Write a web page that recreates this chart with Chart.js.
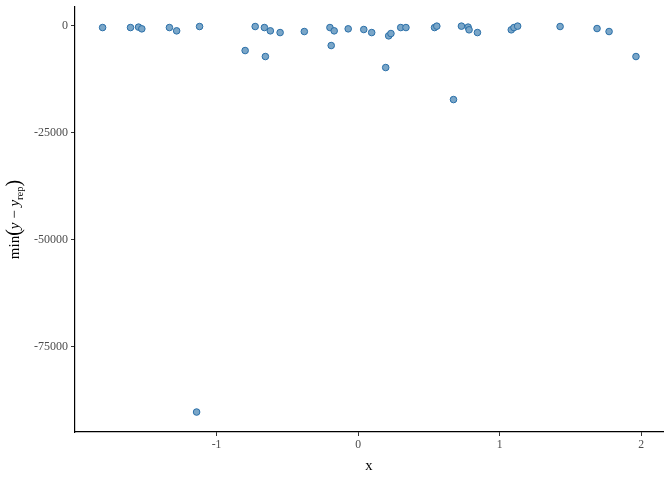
<!DOCTYPE html>
<html>
<head>
<meta charset="utf-8">
<script src="https://cdn.jsdelivr.net/npm/chart.js@4"></script>
<style>
html,body{margin:0;padding:0;background:#fff;}
#wrap{width:672px;height:480px;}
</style>
</head>
<body>
<div id="wrap"><canvas id="c" width="672" height="480"></canvas></div>
<script>
const xValues = [-1.805,-1.608,-1.551,-1.528,-1.333,-1.282,-1.120,-1.141,-0.798,-0.727,
  -0.662,-0.655,-0.620,-0.551,-0.380,-0.199,-0.190,-0.169,-0.070,0.040,
  0.096,0.195,0.216,0.232,0.301,0.338,0.540,0.556,0.674,0.730,
  0.777,0.784,0.843,1.082,1.101,1.127,1.427,1.688,1.773,1.963];
const yValues = [-400,-400,-300,-700,-400,-1170,-160,-90200,-5770,-160,
  -400,-7170,-1170,-1570,-1330,-400,-4600,-1170,-700,-860,
  -1570,-9740,-2340,-1800,-400,-400,-400,-70,-17220,-70,
  -300,-930,-1570,-930,-400,-70,-160,-630,-1330,-7170];
const xTicks = [-1, 0, 1, 2];
const yTicks = [-75000, -50000, -25000, 0];

const points = xValues.map((x, i) => ({x: x, y: yValues[i]}));
const SERIF = "'Liberation Serif', 'Times New Roman', serif";

const titlePlugin = {
  id: 'titles',
  afterDraw(chart) {
    const ctx = chart.ctx;
    const ca = chart.chartArea;
    ctx.save();
    ctx.fillStyle = '#000';
    // x title
    ctx.font = '14.7px ' + SERIF;
    ctx.textAlign = 'center';
    ctx.textBaseline = 'alphabetic';
    ctx.fillText('x', (ca.left + ca.right) / 2, 470);
    // y title rotated
    const cy = (ca.top + ca.bottom) / 2;
    ctx.translate(19, cy);
    ctx.rotate(-Math.PI / 2);
    const big = '15px ' + SERIF;
    const ital = 'italic 15px ' + SERIF;
    const paren = '20px ' + SERIF;
    const sub = '10.5px ' + SERIF;
    const parts = [
      {t: 'min', f: big, dy: 0},
      {t: '(', f: paren, dy: 1},
      {t: 'y', f: ital, dy: 0},
      {t: ' \u2212 ', f: big, dy: 0},
      {t: 'y', f: ital, dy: 0},
      {t: 'rep', f: sub, dy: 4},
      {t: ')', f: paren, dy: 1}
    ];
    let total = 0;
    parts.forEach(p => { ctx.font = p.f; p.w = ctx.measureText(p.t).width; total += p.w; });
    let x = -total / 2;
    ctx.textAlign = 'left';
    parts.forEach(p => {
      ctx.font = p.f;
      ctx.fillText(p.t, x, p.dy);
      x += p.w;
    });
    ctx.restore();
  }
};

new Chart(document.getElementById('c'), {
  type: 'scatter',
  data: {
    datasets: [{
      data: points,
      pointRadius: 3.3,
      pointHoverRadius: 3.3,
      pointBackgroundColor: 'rgb(122,166,200)',
      pointBorderColor: '#2a6fa8',
      pointBorderWidth: 1
    }]
  },
  options: {
    responsive: false,
    animation: false,
    devicePixelRatio: 1,
    layout: {padding: {top: 7, right: 9, left: 0, bottom: 0}},
    plugins: {legend: {display: false}, tooltip: {enabled: false}},
    scales: {
      x: {
        type: 'linear',
        min: -2.0,
        max: 2.154,
        afterBuildTicks: s => { s.ticks = xTicks.map(v => ({value: v})); },
        afterFit: s => { s.height = 48; s.paddingLeft = 0; s.paddingRight = 0; },
        border: {display: true, color: '#000', width: 1.2},
        grid: {display: true, drawOnChartArea: false, drawTicks: true, tickLength: 4, color: '#333'},
        ticks: {color: '#4d4d4d', font: {family: SERIF, size: 11.7}, padding: 2, maxRotation: 0}
      },
      y: {
        type: 'linear',
        min: -94860,
        max: 4400,
        afterBuildTicks: s => { s.ticks = yTicks.map(v => ({value: v})); },
        afterFit: s => { s.width = 75; s.paddingTop = 0; s.paddingBottom = 0; },
        border: {display: true, color: '#000', width: 1.2},
        grid: {display: true, drawOnChartArea: false, drawTicks: true, tickLength: 4, color: '#333'},
        ticks: {color: '#4d4d4d', font: {family: SERIF, size: 12}, padding: 3, callback: v => String(v)}
      }
    }
  },
  plugins: [titlePlugin]
});
</script>
</body>
</html>
